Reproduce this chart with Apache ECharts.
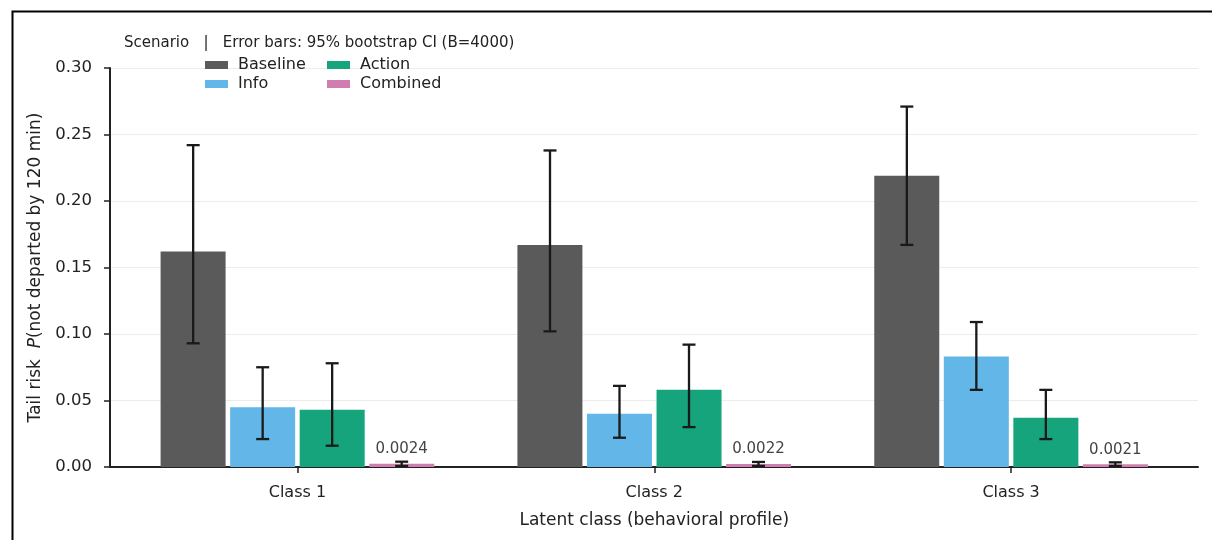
<!DOCTYPE html>
<html>
<head>
<meta charset="utf-8">
<script src="https://cdn.jsdelivr.net/npm/echarts@6/dist/echarts.min.js"></script>
<style>html,body{margin:0;padding:0;background:#fff;}#c{width:1212px;height:540px;}</style>
</head>
<body>
<div id="c"></div>
<script>
const categories = ['Class 1', 'Class 2', 'Class 3'];
const scenarios = ['Baseline', 'Info', 'Action', 'Combined'];
const baseline = [0.162, 0.167, 0.219];
const baselineLo = [0.093, 0.102, 0.167];
const baselineHi = [0.242, 0.238, 0.271];
const info = [0.045, 0.040, 0.083];
const infoLo = [0.021, 0.022, 0.058];
const infoHi = [0.075, 0.061, 0.109];
const action = [0.043, 0.058, 0.037];
const actionLo = [0.016, 0.030, 0.021];
const actionHi = [0.078, 0.092, 0.058];
const combined = [0.0024, 0.0022, 0.0021];
const combinedLo = [0.0008, 0.0008, 0.0008];
const combinedHi = [0.0040, 0.0038, 0.0035];
const yTicks = [0, 0.05, 0.10, 0.15, 0.20, 0.25, 0.30];

const FONT = 'DejaVu Sans';
const colors = {Baseline: '#5a5a5a', Info: '#62b6e8', Action: '#16a47c', Combined: '#d07eb0'};
const BAR_W = 65;
const STEP = 69.5;
const vals = {Baseline: baseline, Info: info, Action: action, Combined: combined};
const los = {Baseline: baselineLo, Info: infoLo, Action: actionLo, Combined: combinedLo};
const his = {Baseline: baselineHi, Info: infoHi, Action: actionHi, Combined: combinedHi};

const chart = echarts.init(document.getElementById('c'), null, {renderer: 'canvas'});

const series = [];
scenarios.forEach((s, si) => {
  series.push({
    name: s, type: 'bar', xAxisIndex: 1, yAxisIndex: 1,
    barWidth: BAR_W, barGap: '7%',
    itemStyle: {color: colors[s]},
    data: vals[s], z: 2
  });
});
scenarios.forEach((s, si) => {
  const offset = (si - 1.5) * STEP;
  series.push({
    type: 'custom', xAxisIndex: 1, yAxisIndex: 1, z: 5, silent: true,
    data: categories.map((c, i) => [i, los[s][i], his[s][i], vals[s][i]]),
    renderItem: function (params, api) {
      const x = api.coord([api.value(0), 0])[0] + offset;
      const yLo = api.coord([api.value(0), api.value(1)])[1];
      const yHi = api.coord([api.value(0), api.value(2)])[1];
      const st = {stroke: '#1a1a1a', lineWidth: 2.3};
      const ch = [
        {type: 'line', shape: {x1: x, y1: yLo, x2: x, y2: yHi}, style: st},
        {type: 'line', shape: {x1: x - 6.5, y1: yLo, x2: x + 6.5, y2: yLo}, style: st},
        {type: 'line', shape: {x1: x - 6.5, y1: yHi, x2: x + 6.5, y2: yHi}, style: st}
      ];
      if (s === 'Combined') {
        ch.push({type: 'text', style: {
          x: x, y: yHi - 5, text: api.value(3).toFixed(4),
          textAlign: 'center', textVerticalAlign: 'bottom',
          fontFamily: FONT, fontSize: 15, fill: '#444'
        }});
      }
      return {type: 'group', children: ch};
    }
  });
});

chart.setOption({
  animation: false,
  backgroundColor: '#fff',
  textStyle: {fontFamily: FONT},
  title: {
    text: 'Scenario   |   Error bars: 95% bootstrap CI (B=4000)',
    left: 119, top: 31,
    textStyle: {fontFamily: FONT, fontSize: 15, fontWeight: 'normal', color: '#222'}
  },
  legend: [
    {data: ['Baseline', 'Info'], orient: 'vertical', left: 200, top: 52, itemWidth: 23, itemHeight: 8, itemGap: 3,
     icon: 'rect', textStyle: {fontFamily: FONT, fontSize: 16, color: '#222', padding: [0, 0, 0, 5]}},
    {data: ['Action', 'Combined'], orient: 'vertical', left: 322, top: 52, itemWidth: 23, itemHeight: 8, itemGap: 3,
     icon: 'rect', textStyle: {fontFamily: FONT, fontSize: 16, color: '#222', padding: [0, 0, 0, 5]}}
  ],
  grid: [
    {left: 110, right: 14, top: 68, bottom: 73},
    {left: 119, right: 22.5, top: 68, bottom: 73}
  ],
  xAxis: [
    {type: 'value', gridIndex: 0, min: 0, max: 1,
     axisLine: {show: true, onZero: false, lineStyle: {color: '#222', width: 2}},
     axisTick: {show: false}, axisLabel: {show: false}, splitLine: {show: false}},
    {type: 'category', gridIndex: 1, data: categories,
     axisLine: {show: false},
     axisTick: {show: true, alignWithLabel: true, length: 6, lineStyle: {color: '#222', width: 1.5}},
     axisLabel: {fontFamily: FONT, fontSize: 16, color: '#222', margin: 18},
     name: 'Latent class (behavioral profile)', nameLocation: 'middle', nameGap: 45,
     nameTextStyle: {fontFamily: FONT, fontSize: 17, color: '#222'}}
  ],
  yAxis: [
    {type: 'value', gridIndex: 0, min: 0, max: 0.30, interval: 0.05,
     axisLine: {show: true, lineStyle: {color: '#222', width: 2}},
     axisTick: {show: true, length: 6, lineStyle: {color: '#222', width: 1.5}},
     axisLabel: {fontFamily: FONT, fontSize: 16.5, color: '#222', margin: 18,
       formatter: v => { const t = yTicks.find(k => Math.abs(k - v) < 1e-9); return (t !== undefined ? t : v).toFixed(2); }},
     splitLine: {show: true, lineStyle: {color: '#ececec', width: 1}},
     name: 'Tail risk  {i|P}(not departed by 120 min)', nameLocation: 'middle', nameGap: 64, nameRotate: 90,
     nameTextStyle: {fontFamily: FONT, fontSize: 17, color: '#222',
       rich: {i: {fontFamily: FONT, fontSize: 17, fontStyle: 'italic', color: '#222'}}}},
    {type: 'value', gridIndex: 1, min: 0, max: 0.30, interval: 0.05, show: false}
  ],
  graphic: [
    {type: 'rect', left: 10, top: 9, shape: {x: 0, y: 0, width: 1300, height: 620},
     style: {fill: null, stroke: '#000', lineWidth: 2}, silent: true, z: 100}
  ],
  series: series
});
</script>
</body>
</html>
